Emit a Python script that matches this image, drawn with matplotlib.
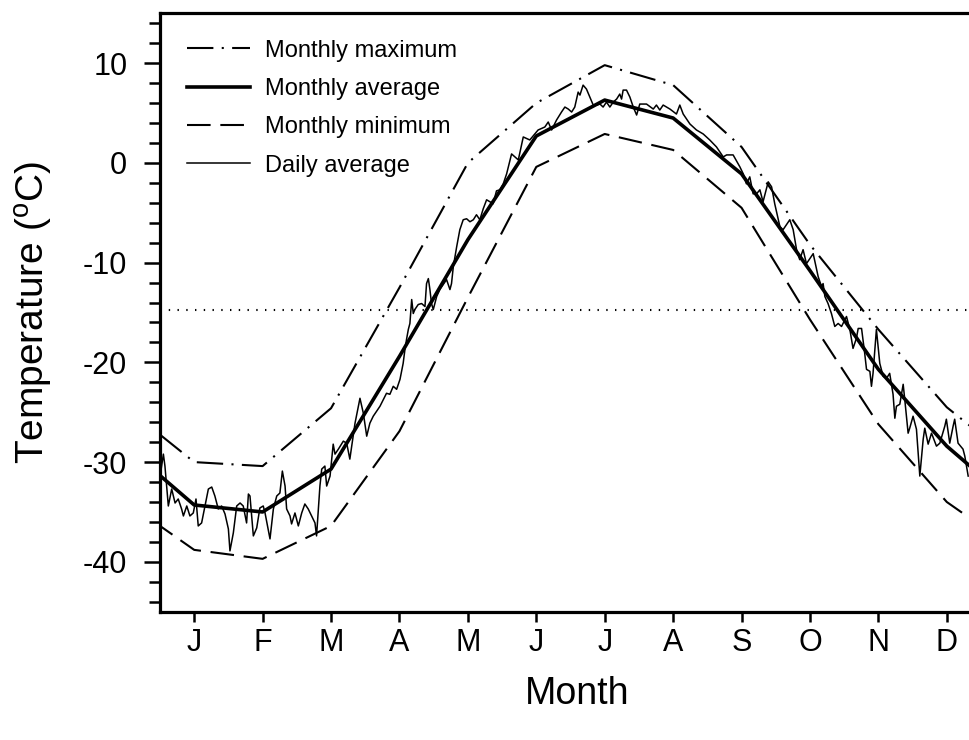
import matplotlib
matplotlib.use('Agg')
import matplotlib.pyplot as plt
import numpy as np
from matplotlib.ticker import MultipleLocator

plt.rcParams['font.family'] = ['Liberation Sans', 'DejaVu Sans']
plt.rcParams['mathtext.fontset'] = 'custom'
plt.rcParams['mathtext.rm'] = 'Liberation Sans'
plt.rcParams['lines.scale_dashes'] = False
plt.rcParams['axes.unicode_minus'] = False

# ---------------- data ----------------
month_labels = ['J', 'F', 'M', 'A', 'M', 'J', 'J', 'A', 'S', 'O', 'N', 'D']
monthly_max = [-30.0, -30.4, -24.6, -12.5, 0.0, 6.0, 9.8, 7.8, 1.6, -8.2, -16.7, -24.5]
monthly_avg = [-34.3, -35.0, -30.7, -19.4, -7.7, 2.7, 6.3, 4.5, -1.1, -10.8, -20.7, -28.4]
monthly_min = [-38.8, -39.7, -36.4, -26.9, -13.5, -0.4, 2.9, 1.3, -4.5, -15.7, -26.2, -34.0]
threshold = -14.7

daily_day = [0.0, 1.5, 2.2, 3.7, 5.2, 6.7, 8.1, 9.6, 10.4, 11.9, 13.3, 14.8, 16.0, 17.0,
             18.5, 20.0, 21.5, 23.0, 24.4, 25.9, 27.4, 28.9, 30.4, 31.1, 32.6, 34.1,
             35.6, 37.0, 38.5, 39.3, 40.0, 41.5, 43.0, 44.4, 45.9, 46.7, 48.9, 50.4,
             51.9, 53.3, 54.4, 55.6, 56.3, 57.8, 58.5, 60.0, 61.5, 63.0, 64.4, 65.9,
             67.4, 68.9, 69.6, 71.1, 71.9, 73.3, 74.1, 75.6, 77.0, 77.8, 79.3, 81.5,
             83.0, 84.4, 85.9, 86.7, 88.9, 90.4, 91.9, 93.3, 94.8, 97.8, 100.7, 102.2,
             103.7, 105.2, 106.7, 108.1, 108.9, 109.6, 110.4, 111.1, 111.9, 112.6,
             113.3, 114.8, 116.3, 117.8, 118.5, 119.3, 120.0, 120.7, 121.5, 123.0,
             124.4, 127.4, 128.9, 129.6, 130.4, 131.9, 133.3, 134.8, 136.3, 137.8,
             139.3, 140.7, 142.2, 143.7, 145.2, 146.7, 148.1, 149.6, 151.1, 152.6,
             154.1, 156.3, 159.3, 161.5, 164.4, 168.1, 171.1, 172.6, 174.1, 176.3,
             178.5, 180.0, 181.5, 183.0, 184.4, 185.9, 186.7, 188.1, 189.6, 191.1,
             192.6, 194.1, 195.6, 197.0, 198.5, 200.0, 201.5, 203.0, 204.4, 205.2,
             205.9, 207.4, 208.9, 210.4, 211.9, 213.3, 216.3, 219.3, 220.7, 222.2,
             223.7, 226.7, 229.6, 231.1, 232.6, 235.6, 238.5, 241.5, 244.4, 247.4,
             250.4, 251.9, 254.8, 257.8, 259.3, 260.7, 262.2, 263.7, 265.2, 266.7,
             268.1, 270.4, 271.9, 273.3, 275.6, 277.0, 280.0, 281.5, 283.0, 284.4,
             285.9, 287.4, 290.4, 292.6, 294.1, 294.8, 295.6, 297.0, 298.5, 300.0,
             301.5, 303.0, 305.2, 306.7, 308.1, 309.6, 310.4, 311.9, 313.3, 314.1,
             315.6, 316.3, 317.0, 318.5, 320.0, 321.5, 323.0, 324.4, 325.9, 326.7,
             327.4, 328.9, 330.4, 331.1, 332.6, 333.3, 334.8, 336.3, 337.8, 339.3,
             340.0, 341.5, 343.0, 345.2, 346.7, 348.9, 349.6, 351.1, 352.6, 353.3,
             354.8, 357.0, 357.8, 359.3]
daily_temp = [-31.5, -29.2, -30.4, -34.4, -32.7, -34.1, -33.7, -34.7, -35.4, -34.4, -35.4,
              -35.1, -33.7, -36.4, -36.1, -34.4, -32.7, -32.5, -33.4, -34.7, -34.4, -35.2,
              -36.7, -38.9, -37.1, -34.4, -34.1, -34.4, -36.1, -33.2, -33.4, -37.4, -36.6,
              -34.6, -34.4, -35.1, -37.7, -34.7, -33.4, -33.1, -30.9, -32.4, -34.7, -35.4,
              -36.2, -35.1, -36.4, -35.1, -34.2, -34.7, -35.4, -36.1, -37.4, -32.4, -30.7,
              -30.4, -32.4, -31.4, -28.2, -29.2, -28.7, -27.9, -28.1, -29.7, -27.4, -26.1,
              -23.6, -25.1, -27.4, -26.1, -25.4, -24.4, -23.1, -23.2, -22.4, -22.7, -21.7,
              -20.1, -18.7, -17.7, -16.7, -16.1, -13.7, -15.1, -14.7, -14.2, -14.1, -14.4,
              -12.1, -11.6, -12.7, -14.1, -14.7, -13.4, -12.7, -11.7, -12.7, -12.1, -10.4,
              -8.4, -6.7, -5.7, -5.6, -5.9, -5.7, -5.2, -5.7, -4.6, -3.7, -3.9, -4.1, -2.8,
              -2.7, -2.1, -1.1, 0.9, 0.3, 2.6, 2.3, 3.3, 3.6, 4.1, 3.3, 4.3, 5.1, 5.6, 5.4,
              5.1, 5.6, 7.1, 6.8, 7.8, 7.4, 6.6, 5.8, 5.8, 5.9, 5.6, 6.1, 5.6, 6.1, 6.4,
              6.9, 6.4, 7.3, 7.3, 6.6, 5.6, 4.8, 5.9, 5.9, 5.4, 5.8, 5.3, 5.8, 5.4, 4.9,
              5.8, 4.9, 3.9, 3.3, 2.9, 2.3, 1.6, 0.6, 0.8, 0.8, -0.4, -1.1, -2.1, -1.4,
              -3.1, -3.1, -2.7, -3.9, -1.9, -2.4, -4.1, -6.4, -6.7, -5.7, -6.7, -8.7,
              -9.7, -8.7, -10.1, -9.1, -11.4, -12.4, -12.1, -13.4, -14.1, -15.1, -16.4,
              -16.1, -16.4, -15.4, -16.7, -18.6, -17.6, -16.6, -16.6, -19.1, -20.7, -20.9,
              -22.4, -21.1, -16.7, -20.1, -21.4, -21.6, -21.1, -23.2, -25.6, -24.4, -24.2,
              -22.2, -23.7, -27.1, -26.6, -25.4, -26.7, -31.4, -27.7, -26.6, -28.2, -27.1,
              -28.4, -28.1, -26.4, -25.7, -28.1, -26.4, -25.7, -28.1, -28.7, -29.4, -31.4]

# ---------------- figure ----------------
fig = plt.figure(figsize=(9.69, 7.40), dpi=100)
# right edge of the axes lies just beyond the figure (as in the reference)
ax = fig.add_axes([160 / 969, 128.3 / 740, 821 / 969, 598.4 / 740])

mid = (np.arange(12) + 0.5) * 365 / 12
xm = np.concatenate([[mid[-1] - 365], mid, [mid[0] + 365]])


def wrap(v):
    v = list(v)
    return [v[-1]] + v + [v[0]]


ax.plot(xm, wrap(monthly_max), color='k', lw=1.5, dashes=(19, 6, 1.5, 6),
        label='Monthly maximum')
ax.plot(xm, wrap(monthly_avg), color='k', lw=2.6, label='Monthly average')
ax.plot(xm, wrap(monthly_min), color='k', lw=1.5, dashes=(17, 7),
        label='Monthly minimum')
ax.plot(daily_day, daily_temp, color='k', lw=1.1, label='Daily average')
ax.axhline(threshold, color='k', lw=1.5, ls=(0, (1, 5.3)))

ax.set_xlim(0, 365)
ax.set_ylim(-45, 15)
ax.set_xticks(mid)
ax.set_xticklabels(month_labels)
ax.yaxis.set_major_locator(MultipleLocator(10))
ax.yaxis.set_minor_locator(MultipleLocator(2))

ax.tick_params(axis='y', which='major', direction='out', length=11.5, width=1.8,
               labelsize=22, pad=12)
ax.tick_params(axis='y', which='minor', direction='out', length=8, width=1.8)
ax.tick_params(axis='x', which='major', direction='out', length=7, width=1.8,
               labelsize=22, pad=5)

for s in ['left', 'top', 'bottom']:
    ax.spines[s].set_linewidth(2.3)
ax.spines['right'].set_visible(False)

ax.set_xlabel('Month', fontsize=27)
ax.set_ylabel('Temperature ($^{\\mathrm{o}}$C)', fontsize=28)
ax.xaxis.set_label_coords(0.508, -0.107)
ax.yaxis.set_label_coords(-0.128, 0.5)

ax.legend(loc='upper left', bbox_to_anchor=(0.033, 0.956), frameon=False,
          fontsize=17, handlelength=2.67, handletextpad=0.62, labelspacing=0.69,
          borderpad=0, borderaxespad=0)

fig.savefig('out.png', dpi=100)
